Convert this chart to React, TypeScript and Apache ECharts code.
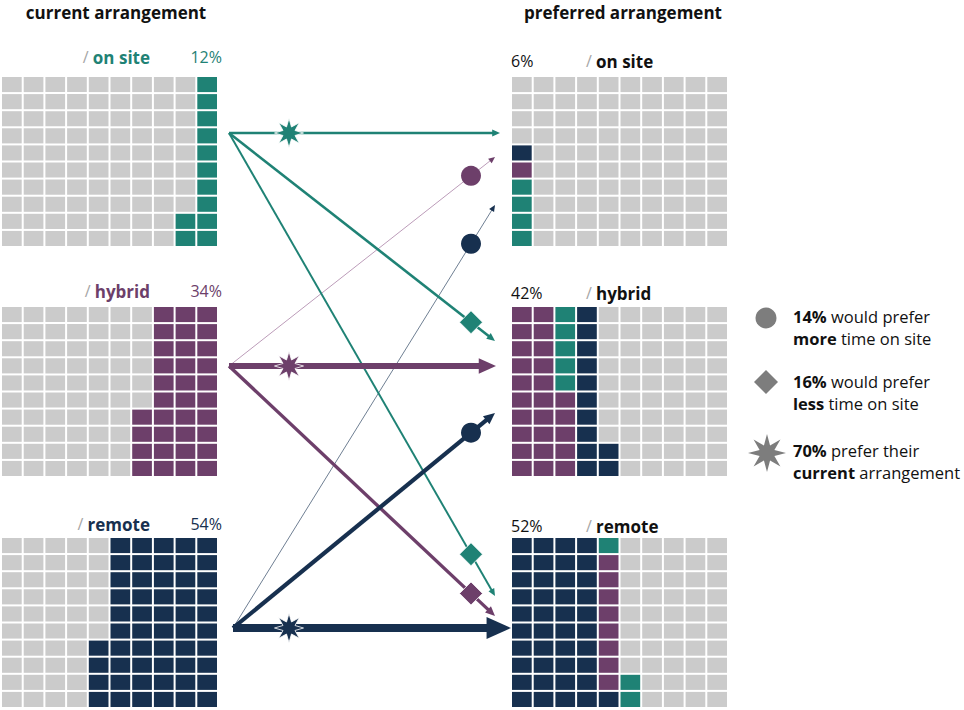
import React, { useEffect, useRef } from "react";
import * as echarts from "echarts";

// ---------------- data ----------------
const CATEGORIES = ["on site", "hybrid", "remote"];
// share of all respondents moving from current arrangement (row) to preferred (index)
const FROM_ON_SITE = [4, 5, 3];
const FROM_HYBRID = [1, 25, 8];
const FROM_REMOTE = [1, 12, 41];
const TITLES = ["current arrangement", "preferred arrangement"];
const LEGEND_BOLD_1 = ["14%", "16%", "70%"];
const LEGEND_REST_1 = [" would prefer", " would prefer", " prefer their"];
const LEGEND_BOLD_2 = ["more", "less", "current"];
const LEGEND_REST_2 = [" time on site", " time on site", " arrangement"];

// ---------------- styles / layout ----------------
const COLORS = ["#1f8275", "#6d3f6a", "#17304f"];
const THIN_COLORS = ["#1f8275", "#bc9cb9", "#6f7f93"];
const GREY = "#cbcbcb";
const LEGEND_GREY = "#7d7d7d";
const FONT = "'Open Sans', Lato, sans-serif";
const W = 964;
const H = 710;
const GRID_TOPS = [76, 306, 537];
const GRID_H = 171;
const GRID_W = 217;
const LEFT_X = 1;
const RIGHT_X = 511;
const LEFT_LABEL_Y = [57, 291, 524];
const RIGHT_LABEL_Y = [61, 293, 526];
const SRC_X = [229, 229, 233];
const SRC_Y = [133, 366, 628];
// TGT_Y[target][source]
const TGT_Y = [
  [133, 157, 205],
  [341, 366, 413],
  [596, 616, 628],
];
const TIP_X_STAY = [500, 496, 511];
const TIP_X_MOVE = 495;
const STAR_X = 289;
const MARK_X = 471;

const FLOWS = [FROM_ON_SITE, FROM_HYBRID, FROM_REMOTE];
const currentPct = FLOWS.map((r) => r.reduce((a, b) => a + b, 0));
const preferredPct = [0, 1, 2].map((j) => FLOWS.reduce((a, r) => a + r[j], 0));

function leftCells(i: number) {
  const out: number[][] = [];
  for (let k = 0; k < 100; k++) {
    const col = 9 - Math.floor(k / 10);
    const row = 9 - (k % 10);
    out.push([col, row, k < currentPct[i] ? i : 3]);
  }
  return out;
}

function rightCells(j: number) {
  const order = [0, 1, 2].sort((a, b) => {
    const da = Math.abs(a - j);
    const db = Math.abs(b - j);
    return da !== db ? da - db : a - b;
  });
  const seq: number[] = [];
  order.forEach((s) => {
    for (let n = 0; n < FLOWS[s][j]; n++) seq.push(s);
  });
  const out: number[][] = [];
  for (let k = 0; k < 100; k++) {
    const col = Math.floor(k / 10);
    const row = 9 - (k % 10);
    out.push([col, row, k < seq.length ? seq[k] : 3]);
  }
  return out;
}

function starPoints(cx: number, cy: number, R: number, r: number, n = 8) {
  const pts: number[][] = [];
  for (let k = 0; k < n * 2; k++) {
    const a = -Math.PI / 2 + (k * Math.PI) / n;
    const rad = k % 2 === 0 ? R : r;
    pts.push([cx + rad * Math.cos(a), cy + rad * Math.sin(a)]);
  }
  return pts;
}

const lineWidth = (v: number) => Math.max(1, 1.3 * Math.sqrt(v) - 0.3);
const headLen = (v: number) => 6 + 0.45 * v;

export default function App() {
  const ref = useRef<HTMLDivElement>(null);
  useEffect(() => {
    if (!ref.current) return;
    const chart = echarts.init(ref.current, undefined, { renderer: "svg" });

    const grids: any[] = [];
    const xAxes: any[] = [];
    const yAxes: any[] = [];
    const series: any[] = [];

    const waffleRender = (params: any, api: any) => {
      const col = api.value(0);
      const row = api.value(1);
      const ci = api.value(2);
      const p0 = api.coord([col, row]);
      const p1 = api.coord([col + 1, row + 1]);
      return {
        type: "rect",
        shape: {
          x: Math.min(p0[0], p1[0]) + 1,
          y: Math.min(p0[1], p1[1]) + 1,
          width: Math.abs(p1[0] - p0[0]) - 2,
          height: Math.abs(p1[1] - p0[1]) - 2,
        },
        style: { fill: ci === 3 ? GREY : COLORS[ci] },
      };
    };

    for (let side = 0; side < 2; side++) {
      for (let i = 0; i < 3; i++) {
        const idx = grids.length;
        grids.push({
          left: side === 0 ? LEFT_X : RIGHT_X,
          top: GRID_TOPS[i],
          width: GRID_W,
          height: GRID_H,
        });
        xAxes.push({ type: "value", min: 0, max: 10, show: false, gridIndex: idx });
        yAxes.push({ type: "value", min: 0, max: 10, inverse: true, show: false, gridIndex: idx });
        series.push({
          type: "custom",
          xAxisIndex: idx,
          yAxisIndex: idx,
          renderItem: waffleRender,
          data: side === 0 ? leftCells(i) : rightCells(i),
          silent: true,
        });
      }
    }

    // flow overlay grid (pixel-like layout units)
    const fIdx = grids.length;
    grids.push({ left: 0, top: 0, width: W, height: H });
    xAxes.push({ type: "value", min: 0, max: W, show: false, gridIndex: fIdx });
    yAxes.push({ type: "value", min: 0, max: H, inverse: true, show: false, gridIndex: fIdx });

    const flowData: number[][] = [];
    for (let i = 0; i < 3; i++) for (let j = 0; j < 3; j++) flowData.push([i, j, FLOWS[i][j]]);
    flowData.sort((a, b) => a[2] - b[2]);

    series.push({
      type: "custom",
      xAxisIndex: fIdx,
      yAxisIndex: fIdx,
      silent: true,
      data: flowData,
      renderItem: (params: any, api: any) => {
        const i = api.value(0);
        const j = api.value(1);
        const v = api.value(2);
        const sx = SRC_X[i];
        const sy = SRC_Y[i];
        const tx = i === j ? TIP_X_STAY[i] : TIP_X_MOVE;
        const ty = TGT_Y[j][i];
        const s = api.coord([sx, sy]);
        const t = api.coord([tx, ty]);
        const dx = t[0] - s[0];
        const dy = t[1] - s[1];
        const L = Math.hypot(dx, dy);
        const ux = dx / L;
        const uy = dy / L;
        const nx = -uy;
        const ny = ux;
        const hl = headLen(v);
        const hw = hl * 0.45;
        const b = [t[0] - ux * hl, t[1] - uy * hl];
        const color = COLORS[i];
        const lc = v <= 1 ? THIN_COLORS[i] : color;
        const children: any[] = [
          {
            type: "line",
            shape: { x1: s[0], y1: s[1], x2: b[0] + ux, y2: b[1] + uy },
            style: { stroke: lc, lineWidth: lineWidth(v) },
          },
          {
            type: "polygon",
            shape: {
              points: [
                [t[0], t[1]],
                [b[0] + nx * hw, b[1] + ny * hw],
                [b[0] - nx * hw, b[1] - ny * hw],
              ],
            },
            style: { fill: color },
          },
        ];
        if (i === j) {
          const p = api.coord([STAR_X, sy]);
          children.push({
            type: "polygon",
            shape: { points: starPoints(p[0], p[1], 14.5, 6.5) },
            style: { fill: color, stroke: "#fff", lineWidth: 0.8 },
          });
        } else {
          const f = (MARK_X - sx) / (tx - sx);
          const p = api.coord([MARK_X, sy + f * (ty - sy)]);
          if (j < i) {
            children.push({
              type: "circle",
              shape: { cx: p[0], cy: p[1], r: 10 },
              style: { fill: color },
            });
          } else {
            const d = 11.5;
            children.push({
              type: "polygon",
              shape: {
                points: [
                  [p[0], p[1] - d],
                  [p[0] + d, p[1]],
                  [p[0], p[1] + d],
                  [p[0] - d, p[1]],
                ],
              },
              style: { fill: color, stroke: "#fff", lineWidth: 0.8 },
            });
          }
        }
        return { type: "group", children };
      },
    });

    // ---------- texts ----------
    const txt = (x: number, y: number, text: string, opts: any = {}) => ({
      type: "text",
      x,
      y,
      silent: true,
      style: {
        text,
        fill: opts.fill || "#111",
        font: `${opts.weight || "normal"} ${opts.size || 16}px ${FONT}`,
        textAlign: opts.align || "left",
        align: opts.align || "left",
        textVerticalAlign: "middle",
        verticalAlign: "middle",
        rich: opts.rich,
      },
    });
    const richStyles = (color: string) => ({
      s: { fill: "#a6a6a6", color: "#a6a6a6", fontSize: 16, fontFamily: FONT, fontWeight: "normal" },
      b: { fill: color, color, fontSize: 17, fontFamily: FONT, fontWeight: "bold" },
    });

    const graphics: any[] = [];
    graphics.push(txt(116, 12, TITLES[0], { weight: "bold", size: 17, align: "center" }));
    graphics.push(txt(623, 12, TITLES[1], { weight: "bold", size: 17, align: "center" }));

    for (let i = 0; i < 3; i++) {
      graphics.push(
        txt(150, LEFT_LABEL_Y[i], `{s|/ }{b|${CATEGORIES[i]}}`, {
          align: "right",
          rich: richStyles(COLORS[i]),
        })
      );
      graphics.push(txt(222, LEFT_LABEL_Y[i], `${currentPct[i]}%`, { align: "right", fill: COLORS[i] }));
      graphics.push(txt(511, RIGHT_LABEL_Y[i], `${preferredPct[i]}%`, { align: "left", fill: "#111" }));
      graphics.push(
        txt(586, RIGHT_LABEL_Y[i], `{s|/ }{b|${CATEGORIES[i]}}`, {
          align: "left",
          rich: richStyles("#111"),
        })
      );
    }

    // legend keys
    const LEG_Y = [318, 382, 453];
    graphics.push({ type: "circle", shape: { cx: 766, cy: LEG_Y[0], r: 10.5 }, style: { fill: LEGEND_GREY }, silent: true });
    graphics.push({
      type: "polygon",
      shape: { points: [[766, LEG_Y[1] - 12], [778, LEG_Y[1]], [766, LEG_Y[1] + 12], [754, LEG_Y[1]]] },
      style: { fill: LEGEND_GREY },
      silent: true,
    });
    graphics.push({
      type: "polygon",
      shape: { points: starPoints(767, LEG_Y[2], 19, 8) },
      style: { fill: LEGEND_GREY },
      silent: true,
    });
    const LEG_TEXT_Y = [316, 381, 450];
    const LS = 16.5;
    const legRich = {
      b: { fill: "#111", color: "#111", fontSize: LS, fontFamily: FONT, fontWeight: "bold", lineHeight: 22 },
      n: { fill: "#111", color: "#111", fontSize: LS, fontFamily: FONT, fontWeight: "normal", lineHeight: 22 },
    };
    for (let k = 0; k < 3; k++) {
      graphics.push({
        type: "text",
        x: 793,
        y: LEG_TEXT_Y[k] - 11,
        silent: true,
        style: {
          text: `{b|${LEGEND_BOLD_1[k]}}{n|${LEGEND_REST_1[k]}}\n{b|${LEGEND_BOLD_2[k]}}{n|${LEGEND_REST_2[k]}}`,
          font: `normal ${LS}px ${FONT}`,
          fill: "#111",
          textAlign: "left",
          align: "left",
          textVerticalAlign: "top",
          verticalAlign: "top",
          lineHeight: 22,
          rich: legRich,
        },
      });
    }

    chart.setOption({
      animation: false,
      backgroundColor: "#fff",
      grid: grids,
      xAxis: xAxes,
      yAxis: yAxes,
      series,
      graphic: graphics,
    });
    return () => chart.dispose();
  }, []);
  return (
    <div
      ref={ref}
      style={{ position: "fixed", left: 0, top: 0, width: W, height: H, background: "#fff" }}
    />
  );
}
